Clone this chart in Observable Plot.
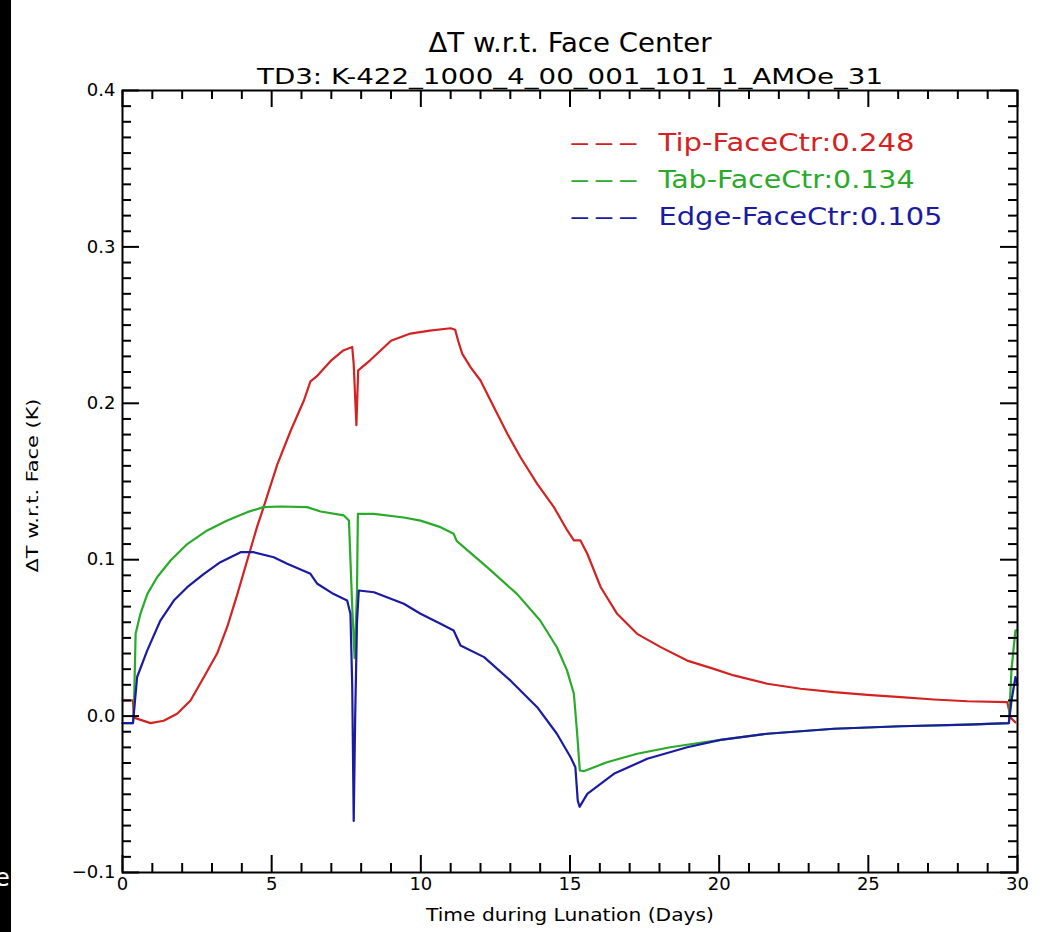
<!DOCTYPE html>
<html>
<head>
<meta charset="utf-8">
<script src="https://cdn.jsdelivr.net/npm/d3@7"></script>
<script src="https://cdn.jsdelivr.net/npm/@observablehq/plot@0.6"></script>
<style>
html, body { margin: 0; padding: 0; background: #fff; }
body { width: 1051px; height: 932px; position: relative; overflow: hidden; font-family: "DejaVu Sans", sans-serif; }
#strip { position: absolute; left: 0; top: 0; width: 11px; height: 932px; background: #000; z-index: 2; overflow: hidden; }
#strip span { position: absolute; left: -5px; top: 866px; color: #fff; font-size: 24px; line-height: 24px; }
#chart { position: absolute; left: 0; top: 0; }
</style>
</head>
<body>
<div id="chart"></div>
<div id="strip"><span>e</span></div>
<script>
// ---- data ----
const titleText = "ΔT w.r.t. Face Center";
const subtitleText = "TD3: K-422_1000_4_00_001_101_1_AMOe_31";
const xLabel = "Time during Lunation (Days)";
const yLabel = "ΔT w.r.t. Face (K)";
const dashText = "— — —";

const seriesNames = ["Tip-FaceCtr:0.248", "Tab-FaceCtr:0.134", "Edge-FaceCtr:0.105"];
const seriesColors = ["#d42222", "#2aaa2a", "#1a1aa2"];

const tipDays = [0, 0.35, 0.38, 0.94, 1.38, 1.83, 2.28, 2.73, 3.17, 3.51, 3.85, 4.18, 4.51, 4.73, 5.19, 5.64, 6.08, 6.3, 6.5, 7.0, 7.4, 7.7, 7.75, 7.84, 7.9, 8.3, 9.0, 9.65, 10.3, 11.0, 11.15, 11.25, 11.39, 11.67, 12.0, 12.45, 12.9, 13.34, 13.9, 14.46, 14.91, 15.13, 15.35, 15.58, 16.03, 16.58, 17.25, 18.04, 18.93, 19.82, 20.49, 21.61, 22.73, 23.85, 24.97, 26.09, 27.2, 28.32, 29.66, 29.77, 29.93];
const tipVals = [0.010, 0.010, -0.001, -0.0045, -0.003, 0.0015, 0.010, 0.025, 0.040, 0.057, 0.078, 0.0995, 0.121, 0.1336, 0.161, 0.1826, 0.2018, 0.214, 0.217, 0.2275, 0.2338, 0.236, 0.225, 0.186, 0.221, 0.2275, 0.240, 0.2446, 0.2465, 0.248, 0.247, 0.240, 0.2316, 0.223, 0.2146, 0.1975, 0.1805, 0.1655, 0.1485, 0.1336, 0.1187, 0.1123, 0.1123, 0.1038, 0.0824, 0.0654, 0.0526, 0.0441, 0.0355, 0.0302, 0.026, 0.0207, 0.0175, 0.0153, 0.0136, 0.0121, 0.0106, 0.0095, 0.0089, -0.001, -0.004];

const tabDays = [0, 0.35, 0.38, 0.44, 0.6, 0.83, 1.16, 1.61, 2.17, 2.84, 3.51, 4.18, 4.73, 5.3, 6.19, 6.64, 7.42, 7.59, 7.7, 7.78, 7.86, 7.89, 8.43, 9.43, 9.99, 10.66, 11.1, 11.2, 11.44, 12.22, 13.23, 14.0, 14.56, 14.9, 15.13, 15.24, 15.33, 15.46, 16.24, 17.25, 18.36, 19.48, 20.05, 21.61, 23.85, 26.09, 28.32, 29.71, 29.8, 29.93, 30];
const tabVals = [-0.0045, -0.0045, 0.002, 0.0526, 0.0654, 0.078, 0.0888, 0.0995, 0.110, 0.1187, 0.125, 0.1304, 0.1336, 0.134, 0.1336, 0.1308, 0.1283, 0.125, 0.07, 0.037, 0.08, 0.1293, 0.1293, 0.127, 0.125, 0.1208, 0.1166, 0.112, 0.108, 0.0952, 0.078, 0.0611, 0.044, 0.0292, 0.0143, -0.0113, -0.0348, -0.0352, -0.0295, -0.0241, -0.0199, -0.0167, -0.0152, -0.0113, -0.0081, -0.0065, -0.0054, -0.0045, 0.03, 0.0547, 0.055];

const edgeDays = [0, 0.35, 0.38, 0.49, 0.83, 1.27, 1.72, 2.17, 2.73, 3.28, 3.96, 4.4, 5.07, 5.52, 6.3, 6.53, 7.08, 7.53, 7.64, 7.7, 7.75, 7.8, 7.86, 7.92, 8.43, 9.43, 9.99, 10.66, 11.1, 11.33, 12.12, 13.0, 13.9, 14.56, 15.02, 15.18, 15.26, 15.32, 15.58, 16.47, 17.59, 18.93, 20.05, 21.61, 23.85, 26.09, 28.32, 29.71, 29.8, 29.93, 30];
const edgeVals = [-0.0045, -0.0045, 0.0015, 0.025, 0.042, 0.0611, 0.0739, 0.0824, 0.091, 0.0984, 0.1048, 0.1048, 0.1016, 0.0974, 0.091, 0.0846, 0.078, 0.0739, 0.0654, 0.02, -0.067, 0.0, 0.06, 0.0803, 0.0792, 0.0718, 0.0654, 0.059, 0.0547, 0.0451, 0.0377, 0.0228, 0.0057, -0.0113, -0.0263, -0.0327, -0.054, -0.058, -0.0497, -0.0369, -0.0273, -0.0199, -0.0152, -0.0113, -0.0081, -0.0065, -0.0054, -0.0045, 0.01, 0.0249, 0.02];

const xMajor = [0, 5, 10, 15, 20, 25, 30];
const xMinor = d3.range(0, 31).filter(d => d % 5 !== 0);
const yMajor = [-0.1, 0.0, 0.1, 0.2, 0.3, 0.4];
const yMinor = d3.range(-10, 41).filter(i => i % 10 !== 0).map(i => i / 100);

// ---- layout ----
const W = 1051, H = 932;
const mL = 122, mR = 34, mT = 90, mB = 60;
const fW = W - mL - mR, fH = H - mT - mB;
const majLen = 17, minLen = 9;

const toRows = (days, vals) => days.map((d, i) => ({day: d, v: vals[i]}));
const seriesRows = [toRows(tipDays, tipVals), toRows(tabDays, tabVals), toRows(edgeDays, edgeVals)];

const tickStyle = {stroke: "black", strokeWidth: 2};

const legendMarks = seriesNames.flatMap((name, i) => [
  Plot.text([dashText], {text: d => d, frameAnchor: "top-left", textAnchor: "start", lineAnchor: "middle",
    dx: 448, dy: 53 + 37 * i, fill: seriesColors[i], fontSize: 24}),
  Plot.text([name], {text: d => d, frameAnchor: "top-left", textAnchor: "start", lineAnchor: "middle",
    dx: 536, dy: 53 + 37 * i, fill: seriesColors[i], fontSize: 24})
]);

const chart = Plot.plot({
  width: W, height: H,
  marginLeft: mL, marginRight: mR, marginTop: mT, marginBottom: mB,
  x: {domain: [0, 30]},
  y: {domain: [-0.1, 0.4]},
  style: {fontFamily: "DejaVu Sans, sans-serif", fontSize: "18px", color: "black", background: "white", overflow: "visible"},
  marks: [
    // data lines
    ...seriesRows.map((rows, i) => Plot.line(rows, {x: "day", y: "v", stroke: seriesColors[i], strokeWidth: 2.2})),
    // inward ticks on all four sides
    Plot.tickX(xMajor, {x: d => d, insetTop: fH - majLen, ...tickStyle}),
    Plot.tickX(xMinor, {x: d => d, insetTop: fH - minLen, ...tickStyle}),
    Plot.tickX(xMajor, {x: d => d, insetBottom: fH - majLen, ...tickStyle}),
    Plot.tickX(xMinor, {x: d => d, insetBottom: fH - minLen, ...tickStyle}),
    Plot.tickY(yMajor, {y: d => d, insetRight: fW - majLen, ...tickStyle}),
    Plot.tickY(yMinor, {y: d => d, insetRight: fW - minLen, ...tickStyle}),
    Plot.tickY(yMajor, {y: d => d, insetLeft: fW - majLen, ...tickStyle}),
    Plot.tickY(yMinor, {y: d => d, insetLeft: fW - minLen, ...tickStyle}),
    Plot.frame({stroke: "black", strokeWidth: 2}),
    // tick labels
    Plot.axisX({ticks: xMajor, tickSize: 0, tickPadding: 5, fontSize: 18, tickFormat: d => String(d), label: null}),
    Plot.axisY({ticks: yMajor, tickSize: 0, tickPadding: 7, fontSize: 18, tickFormat: d3.format(".1f"), label: null}),
    // axis titles
    Plot.text([xLabel], {text: d => d, frameAnchor: "bottom", textAnchor: "middle", lineAnchor: "middle", dy: 43, fontSize: 17}),
    Plot.text([yLabel], {text: d => d, frameAnchor: "left", textAnchor: "middle", lineAnchor: "middle", dx: -90, dy: 4, rotate: -90, fontSize: 16}),
    // title & subtitle
    Plot.text([titleText], {text: d => d, frameAnchor: "top", textAnchor: "middle", lineAnchor: "middle", dy: -47, fontSize: 27}),
    Plot.text([subtitleText], {text: d => d, frameAnchor: "top", textAnchor: "middle", lineAnchor: "middle", dy: -14, fontSize: 22}),
    // legend
    ...legendMarks
  ]
});

document.getElementById("chart").appendChild(chart);

// stretch texts to the widths they have in the reference
const widths = new Map([
  [titleText, 283], [subtitleText, 626], [xLabel, 288], [yLabel, 174], [dashText, 67],
  [seriesNames[0], 256], [seriesNames[1], 256], [seriesNames[2], 284]
]);
chart.querySelectorAll("text").forEach(t => {
  const len = widths.get(t.textContent);
  if (len) {
    t.setAttribute("textLength", len);
    t.setAttribute("lengthAdjust", "spacingAndGlyphs");
  }
});
</script>
</body>
</html>
